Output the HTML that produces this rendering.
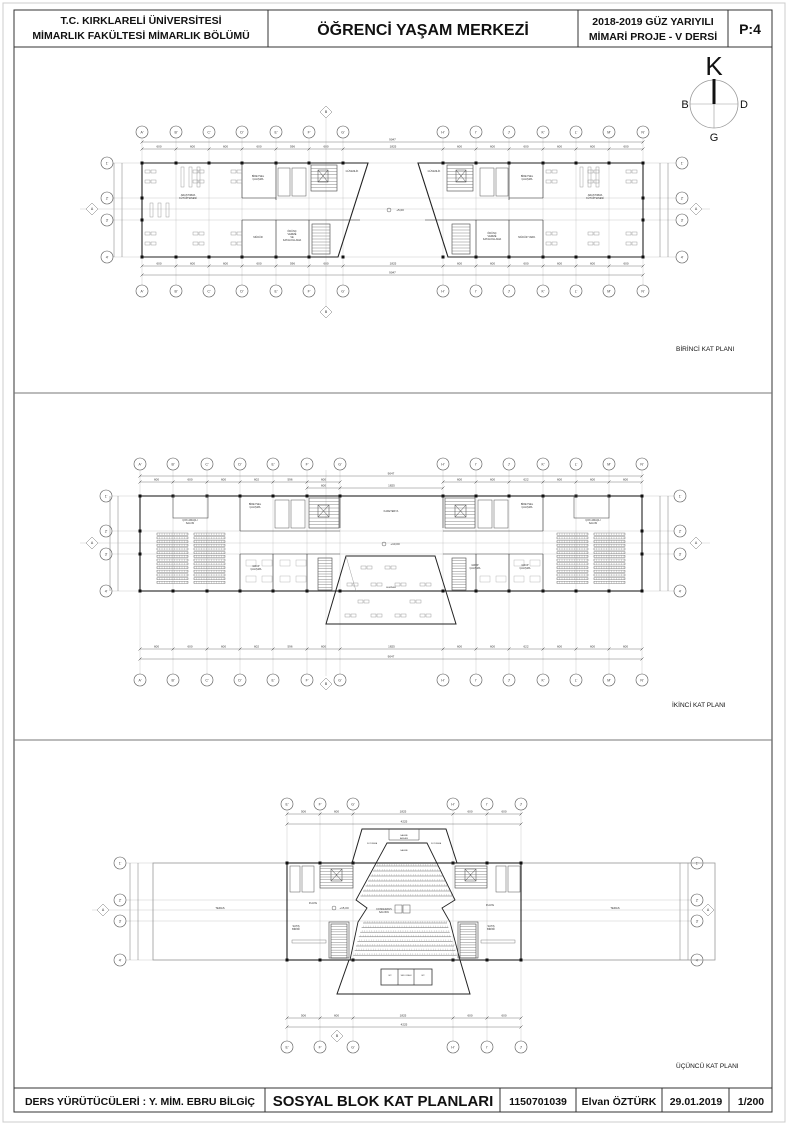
<!DOCTYPE html>
<html><head><meta charset="utf-8"><style>
html,body{margin:0;padding:0;background:#fff}
svg{display:block}
text{font-family:"Liberation Sans",sans-serif}
</style></head><body>
<svg id="s" width="788" height="1125" viewBox="0 0 788 1125" xmlns="http://www.w3.org/2000/svg">
<rect x="3" y="3" width="782" height="1119" fill="none" stroke="#ccc" stroke-width="1"/>
<g fill="none" stroke="#333" stroke-width="1">
<rect x="14" y="10" width="758" height="1102"/>
<line x1="14" y1="47" x2="772" y2="47"/>
<line x1="268" y1="10" x2="268" y2="47"/>
<line x1="578" y1="10" x2="578" y2="47"/>
<line x1="728" y1="10" x2="728" y2="47"/>
<line x1="14" y1="393" x2="772" y2="393" stroke="#777"/>
<line x1="14" y1="740" x2="772" y2="740" stroke="#777"/>
<line x1="14" y1="1088" x2="772" y2="1088"/>
<line x1="265" y1="1088" x2="265" y2="1112"/>
<line x1="500" y1="1088" x2="500" y2="1112"/>
<line x1="576" y1="1088" x2="576" y2="1112"/>
<line x1="662" y1="1088" x2="662" y2="1112"/>
<line x1="729" y1="1088" x2="729" y2="1112"/>
</g>
<g font-weight="bold" fill="#111">
<text x="141" y="24" font-size="10.5" text-anchor="middle">T.C. KIRKLARELİ ÜNİVERSİTESİ</text>
<text x="141" y="39" font-size="10.5" text-anchor="middle">MİMARLIK FAKÜLTESİ MİMARLIK BÖLÜMÜ</text>
<text x="423" y="35" font-size="16" text-anchor="middle">ÖĞRENCİ YAŞAM MERKEZİ</text>
<text x="653" y="25" font-size="10.5" text-anchor="middle">2018-2019 GÜZ YARIYILI</text>
<text x="653" y="40" font-size="10.5" text-anchor="middle">MİMARİ PROJE - V DERSİ</text>
<text x="750" y="34" font-size="14" text-anchor="middle">P:4</text>
<text x="140" y="1105" font-size="10.5" text-anchor="middle">DERS YÜRÜTÜCÜLERİ : Y. MİM. EBRU BİLGİÇ</text>
<text x="383" y="1106" font-size="15" text-anchor="middle">SOSYAL BLOK KAT PLANLARI</text>
<text x="538" y="1105" font-size="10.5" text-anchor="middle">1150701039</text>
<text x="619" y="1105" font-size="10.5" text-anchor="middle">Elvan ÖZTÜRK</text>
<text x="696" y="1105" font-size="10.5" text-anchor="middle">29.01.2019</text>
<text x="751" y="1105" font-size="10.5" text-anchor="middle">1/200</text>
</g>
<g>
<circle cx="714" cy="104" r="24" fill="none" stroke="#999" stroke-width="0.8"/>
<line x1="690" y1="104" x2="738" y2="104" stroke="#999" stroke-width="0.6"/>
<line x1="714" y1="104" x2="714" y2="128" stroke="#999" stroke-width="0.6"/>
<line x1="714" y1="79" x2="714" y2="104" stroke="#111" stroke-width="3"/>
<text x="714" y="75" font-size="26" text-anchor="middle" fill="#111">K</text>
<text x="685" y="108" font-size="11" text-anchor="middle" fill="#111">B</text>
<text x="744" y="108" font-size="11" text-anchor="middle" fill="#111">D</text>
<text x="714" y="141" font-size="11" text-anchor="middle" fill="#111">G</text>
</g>
<g font-size="6.5" fill="#111">
<text x="676" y="351">BİRİNCİ KAT PLANI</text>
<text x="672" y="707">İKİNCİ KAT PLANI</text>
<text x="676" y="1068">ÜÇÜNCÜ KAT PLANI</text>
</g>
<g id="d"></g>
</svg>
<script>
var o='';
function L(a,b,c,d,s,w){o+='<line x1="'+a+'" y1="'+b+'" x2="'+c+'" y2="'+d+'" stroke="'+(s||'#333')+'" stroke-width="'+(w||0.6)+'"/>';}
function R(x,y,w,h,s,sw,f){o+='<rect x="'+x+'" y="'+y+'" width="'+w+'" height="'+h+'" fill="'+(f||'none')+'" stroke="'+(s||'#333')+'" stroke-width="'+(sw||0.6)+'"/>';}
function P(pts,s,w){o+='<polygon points="'+pts+'" fill="none" stroke="'+(s||'#222')+'" stroke-width="'+(w||1)+'"/>';}
function C(x,y,t){o+='<circle cx="'+x+'" cy="'+y+'" r="6" fill="#fff" stroke="#555" stroke-width="0.6"/>';o+='<text x="'+x+'" y="'+(y+1.5)+'" font-size="3.5" text-anchor="middle" fill="#333">'+t+'</text>';}
function T(x,y,t,fs){o+='<text x="'+x+'" y="'+y+'" font-size="'+(fs||3)+'" text-anchor="middle" fill="#333">'+t+'</text>';}
function col(x,y){o+='<rect x="'+(x-1.5)+'" y="'+(y-1.5)+'" width="3" height="3" fill="#111"/>';}
function stair(x,y,w,h,n){R(x,y,w,h,'#444',0.6);for(var i=1;i<n;i++){L(x,y+h*i/n,x+w,y+h*i/n,'#666',0.4);}}
function seats(x,y,w,h,r){for(var i=0;i<r;i++){var yy=y+i*h/r;R(x,yy,w,h/r*0.6,'#666',0.4);for(var j=0;j<w;j+=2.5)L(x+j,yy,x+j,yy+h/r*0.6,'#888',0.3);}}
function tbl(x,y){R(x,y,5,3,'#888',0.4);R(x+6,y,5,3,'#888',0.4);}
function dims(xs,y,lab){L(xs[0],y,xs[xs.length-1],y,'#555',0.4);for(var i=0;i<xs.length;i++){L(xs[i]-1.5,y+1.5,xs[i]+1.5,y-1.5,'#333',0.5);}
 if(lab)for(var i=0;i<xs.length-1;i++)T((xs[i]+xs[i+1])/2,y-1.5,lab[i]||'',3);}
function grid(xs,y1,y2,labs,yb){for(var i=0;i<xs.length;i++){L(xs[i],y1+6,xs[i],y2-6,'#bbb',0.4);C(xs[i],y1,labs[i]);C(xs[i],y2,labs[i]);}}
function rows(ys,xl,xr,x1,x2,labs){for(var i=0;i<ys.length;i++){L(xl+6,ys[i],xr-6,ys[i],'#bbb',0.4);C(xl,ys[i],labs[i]);C(xr,ys[i],labs[i]);}
 L(x1,ys[0],x1,ys[3],'#555',0.4);L(x1-8,ys[0],x1-8,ys[3],'#555',0.4);L(x2,ys[0],x2,ys[3],'#555',0.4);L(x2+8,ys[0],x2+8,ys[3],'#555',0.4);}
function diam(x,y,t){o+='<polygon points="'+x+','+(y-6)+' '+(x+6)+','+y+' '+x+','+(y+6)+' '+(x-6)+','+y+'" fill="#fff" stroke="#777" stroke-width="0.5"/>';T(x,y+1.2,t,3.5);}
var labL=["A'","B'","C'","D'","E'","F'","G'"],labR=["H'","I'","J'","K'","L'","M'","N'"],rl=["1'","2'","3'","4'"];

/* ---------- PLAN 1 ---------- */
var c1=[142,176,209,242,276,309,343],c2=[443,476,509,543,576,609,643],r1=[163,198,220,257];
grid(c1,132,291,labL);grid(c2,132,291,labR);
rows(r1,107,682,122,660,rl);
L(80,209,710,209,'#bbb',0.4);diam(92,209,'A');diam(696,209,'A');
diam(326,112,'B');diam(326,312,'B');L(326,118,326,306,'#bbb',0.4);
dims([142,643],142,['9047']);dims([142,176,209,242,276,309,343,443,476,509,543,576,609,643],149,['600','600','600','600','596','600','1825','600','600','600','600','600','600']);
dims([142,176,209,242,276,309,343,443,476,509,543,576,609,643],266,['600','600','600','600','596','600','1825','600','600','600','600','600','600']);dims([142,643],275,['9047']);
P('142,163 368,163 338,257 142,257','#222',1.1);P('418,163 643,163 643,257 448,257','#222',1.1);
c1.forEach(function(x){col(x,163);col(x,257);});c2.forEach(function(x){col(x,163);col(x,257);});
col(142,198);col(142,220);col(643,198);col(643,220);
// left block interior
L(242,163,242,198);L(242,220,242,257);L(242,198,276,198);L(276,163,276,200);L(242,220,360,220,'#333',0.6);L(276,220,276,257);L(309,220,309,257);
R(278,168,12,28,'#555',0.5);R(292,168,14,28,'#555',0.5);stair(311,165,26,26,8);R(318,170,10,12,'#444',0.5);L(318,170,328,182,'#444',0.5);L(328,170,318,182,'#444',0.5);
stair(312,224,18,30,10);
[150,198,236].forEach(function(x){[170,180].forEach(function(y){tbl(x-5,y);});});
[150,198,236].forEach(function(x){[232,242].forEach(function(y){tbl(x-5,y);});});
R(181,167,3,20,'#888',0.4);R(189,167,3,20,'#888',0.4);R(197,167,3,20,'#888',0.4);
R(150,203,3,14,'#888',0.4);R(158,203,3,14,'#888',0.4);R(166,203,3,14,'#888',0.4);
T(188,196,'ARAŞTIRMA',2.5);T(188,199,'KÜTÜPHANESİ',2.5);T(258,177,'BİREYSEL',2.5);T(258,180,'ÇALIŞMA',2.5);
T(258,238,'MÜDÜR',2.5);T(292,232,'ÖDÜNÇ',2.5);T(292,235,'VERME',2.5);T(292,238,'VE',2.5);T(292,241,'KATALOGLAMA',2.5);T(352,172,'GÜVENLİK',2.5);
// right block interior
L(543,163,543,198);L(543,220,543,257);L(509,198,543,198);L(509,163,509,200);L(425,220,543,220);L(509,220,509,257);L(476,220,476,257);
R(480,168,14,28,'#555',0.5);R(496,168,12,28,'#555',0.5);stair(447,165,26,26,8);R(456,170,10,12,'#444',0.5);L(456,170,466,182,'#444',0.5);L(466,170,456,182,'#444',0.5);
stair(452,224,18,30,10);
[552,594,632].forEach(function(x){[170,180,232,242].forEach(function(y){tbl(x-6,y);});});
R(580,167,3,20,'#888',0.4);R(588,167,3,20,'#888',0.4);R(596,167,3,20,'#888',0.4);
T(595,196,'ARAŞTIRMA',2.5);T(595,199,'KÜTÜPHANESİ',2.5);T(527,177,'BİREYSEL',2.5);T(527,180,'ÇALIŞMA',2.5);
T(527,238,'MÜDÜR YARD.',2.5);T(492,234,'ÖDÜNÇ',2.5);T(492,237,'VERME',2.5);T(492,240,'KATALOGLAMA',2.5);T(434,172,'GÜVENLİK',2.5);
T(400,211,'+5,00',3);o+='<circle cx="389" cy="210" r="2" fill="none" stroke="#333" stroke-width="0.4"/>';

/* ---------- PLAN 2 ---------- */
var d1=[140,173,207,240,273,307,340],d2=[443,476,509,543,576,609,642],r2=[496,531,554,591];
grid(d1,464,680,labL);grid(d2,464,680,labR);
rows(r2,106,680,118,660,rl);
L(80,543,710,543,'#bbb',0.4);diam(92,543,'A');diam(696,543,'A');
diam(326,684,'B');L(326,470,326,676,'#bbb',0.4);
dims([140,642],476,['9047']);dims([140,173,207,240,273,307,340],482,['600','600','600','602','596','600']);dims([443,476,509,543,576,609,642],482,['600','600','622','600','600','600']);
dims([340,443],488,['1825']);dims([307,340],488,['600']);
dims([140,173,207,240,273,307,340,443,476,509,543,576,609,642],649,['600','600','600','602','596','600','1825','600','600','622','600','600','600']);dims([140,642],659,['9047']);
R(140,496,502,95,'#222',1.1);
d1.forEach(function(x){col(x,496);col(x,591);});d2.forEach(function(x){col(x,496);col(x,591);});
col(140,531);col(140,554);col(642,531);col(642,554);
L(240,496,240,531);L(240,554,240,591);L(240,531,340,531,'#444',0.5);L(240,554,340,554,'#444',0.5);L(273,554,273,591);L(307,554,307,591);
L(543,496,543,531);L(543,554,543,591);L(443,531,543,531,'#444',0.5);L(443,554,543,554,'#444',0.5);L(509,554,509,591);L(476,554,476,591);
R(173,496,35,22,'#555',0.6);R(574,496,35,22,'#555',0.6);
seats(157,533,31,52,14);seats(194,533,31,52,14);seats(594,533,31,52,14);seats(557,533,31,52,14);
R(275,500,14,28,'#555',0.5);R(291,500,14,28,'#555',0.5);stair(309,498,30,30,9);R(318,505,11,12,'#444',0.5);L(318,505,329,517,'#444',0.5);L(329,505,318,517,'#444',0.5);
R(478,500,14,28,'#555',0.5);R(494,500,14,28,'#555',0.5);stair(445,498,30,30,9);R(455,505,11,12,'#444',0.5);L(455,505,466,517,'#444',0.5);L(466,505,455,517,'#444',0.5);
stair(318,558,14,32,12);stair(452,558,14,32,12);
L(340,496,340,528);L(443,496,443,528);
P('346,556 435,556 456,624 326,624','#222',1);L(346,556,356,591,'#888',0.4);
[[361,566],[385,566],[347,583],[371,583],[395,583],[420,583],[358,600],[410,600],[345,614],[371,614],[395,614],[420,614]].forEach(function(p){tbl(p[0],p[1]);});
[[246,560],[262,560],[280,560],[296,560],[246,576],[262,576],[280,576],[296,576],[480,576],[496,576],[514,576],[530,576],[514,560],[530,560]].forEach(function(p){R(p[0],p[1],10,6,'#aaa',0.4);});
T(190,521,'ÇOK AMAÇLI',2.5);T(190,524,'SALON',2.5);T(593,521,'ÇOK AMAÇLI',2.5);T(593,524,'SALON',2.5);
T(255,505,'BİREYSEL',2.5);T(255,508,'ÇALIŞMA',2.5);T(527,505,'BİREYSEL',2.5);T(527,508,'ÇALIŞMA',2.5);
T(256,567,'GRUP',2.5);T(256,570,'ÇALIŞMA',2.5);T(475,566,'GRUP',2.5);T(475,569,'ÇALIŞMA',2.5);T(525,566,'GRUP',2.5);T(525,569,'ÇALIŞMA',2.5);
T(391,512,'KAFETERYA',2.5);T(391,588,'SEMİNER',2.2);T(395,545,'+10,00',3);o+='<circle cx="384" cy="544" r="2" fill="none" stroke="#333" stroke-width="0.4"/>';

/* ---------- PLAN 3 ---------- */
var e1=[287,320,353],e2=[453,487,521],r3=[863,900,921,960];
grid(e1,804,1047,["E'","F'","G'"]);grid(e2,804,1047,["H'","I'","J'"]);
rows(r3,120,697,138,680,rl);
L(92,910,712,910,'#bbb',0.4);diam(103,910,'A');diam(708,910,'A');diam(337,1036,'B');
dims([287,320,353,453,487,521],814,['506','600','1825','600','600']);dims([287,521],824,['4225']);
dims([287,320,353,453,487,521],1018,['506','600','1825','600','600']);dims([287,521],1027,['4225']);
R(153,863,134,97,'#999',0.8);R(521,863,194,97,'#999',0.8);
R(287,863,234,97,'#222',1.1);
[287,320,353,453,487,521].forEach(function(x){col(x,863);col(x,960);});
T(220,909,'TERAS',2.8);T(615,909,'TERAS',2.8);T(313,904,'FUAYE',2.5);T(490,906,'FUAYE',2.5);
T(296,927,'SATIŞ',2.5);T(296,930,'BİRİMİ',2.5);T(491,927,'SATIŞ',2.5);T(491,930,'BİRİMİ',2.5);
R(292,940,34,3,'#666',0.4);R(481,940,34,3,'#666',0.4);
R(290,866,10,26,'#555',0.5);R(302,866,12,26,'#555',0.5);stair(320,866,33,22,8);R(331,869,11,12,'#444',0.5);L(331,869,342,881,'#444',0.5);L(342,869,331,881,'#444',0.5);
R(496,866,10,26,'#555',0.5);R(508,866,12,26,'#555',0.5);stair(455,866,32,22,8);R(465,869,11,12,'#444',0.5);L(465,869,476,881,'#444',0.5);L(476,869,465,881,'#444',0.5);
stair(331,924,16,34,13);stair(460,924,16,34,13);R(329,922,20,36,'#444',0.6);R(458,922,20,36,'#444',0.6);
P('362,829 446,829 457,863 352,863','#222',1);
P('387,843 427,843 455,900 442,908 450,922 460,960 350,960 358,922 367,908 356,900','#222',0.9);
L(389,829,389,840,'#444',0.5);L(419,829,419,840,'#444',0.5);L(389,840,419,840,'#444',0.5);
for(var i=0;i<7;i++){var y=866+i*5,w=(y-843)*0.5+20;L(407-w,y,407+w,y,'#666',0.5);for(var k=-w+2;k<w;k+=2.4)L(407+k,y-2,407+k,y,'#999',0.3);}
for(var i=0;i<8;i++){var y=923+i*4.6,w=42+i*1.4;L(405-w,y,405+w,y,'#666',0.5);for(var k=-w+2;k<w;k+=2.4)L(405+k,y-2,405+k,y,'#999',0.3);}
R(395,905,7,8,'#555',0.5);R(403,905,7,8,'#555',0.5);
P('349,960 460,960 470,994 337,994','#222',1);
R(381,969,51,16,'#333',0.8);L(398,969,398,985,'#333',0.6);L(414,969,414,985,'#333',0.6);
T(404,836,'SAHNE',2.2);T(404,839,'ARKASI',2.2);T(372,844,'SOYUNMA',2);T(436,844,'SOYUNMA',2);T(404,851,'SAHNE',2.2);
T(384,910,'KONFERANS',2.5);T(384,913,'SALONU',2.5);T(344,909,'+15,00',3);o+='<circle cx="334" cy="908" r="2" fill="none" stroke="#333" stroke-width="0.4"/>';
T(390,976,'WC',2);T(406,976,'SES ODASI',2);T(423,976,'WC',2);
document.getElementById('d').innerHTML=o;
</script>
</body></html>
